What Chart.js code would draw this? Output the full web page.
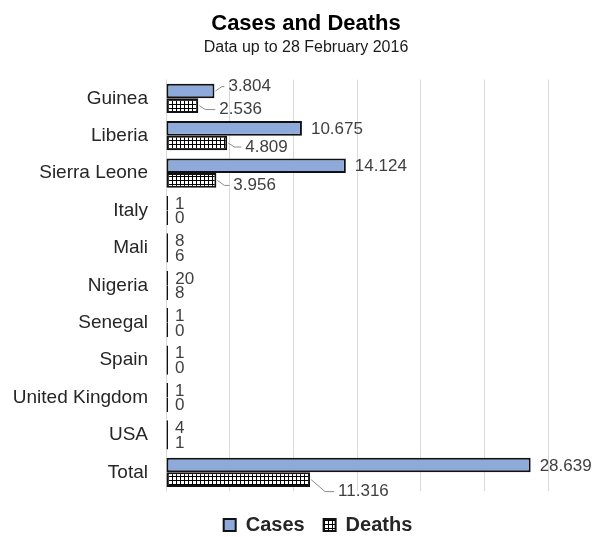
<!DOCTYPE html>
<html>
<head>
<meta charset="utf-8">
<title>Cases and Deaths</title>
<script src="https://cdn.jsdelivr.net/npm/chart.js@4"></script>
<style>
  html, body { margin: 0; padding: 0; background: #fff; }
  #wrap { width: 610px; height: 537px; }
</style>
</head>
<body>
<div id="wrap"><canvas id="chart" width="610" height="537"></canvas></div>
<script>
// Ebola cases and deaths per country, data up to 28 February 2016
const categories = ['Guinea', 'Liberia', 'Sierra Leone', 'Italy', 'Mali', 'Nigeria',
                    'Senegal', 'Spain', 'United Kingdom', 'USA', 'Total'];
const cases  = [3804, 10675, 14124, 1, 8, 20, 1, 1, 1, 4, 28639];
const deaths = [2536, 4809, 3956, 0, 6, 8, 0, 0, 0, 1, 11316];
const xTicks = [0, 5000, 10000, 15000, 20000, 25000, 30000];

const FONT = '"Liberation Sans", Arial, Helvetica, sans-serif';

// thousands separated with a dot
function fmt(v) {
  return String(v).replace(/\B(?=(\d{3})+(?!\d))/g, '.');
}

// small grid hatch used for the deaths bars
function gridPattern() {
  const c = document.createElement('canvas');
  c.width = 4; c.height = 4;
  const g = c.getContext('2d');
  g.fillStyle = '#ffffff';
  g.fillRect(0, 0, 4, 4);
  g.fillStyle = '#000000';
  g.fillRect(0, 0, 4, 1);
  g.fillRect(0, 0, 1, 4);
  return g.createPattern(c, 'repeat');
}

// value labels at the end of each bar, some moved aside with a leader line
const valueLabels = {
  id: 'valueLabels',
  afterDatasetsDraw(chart, args, opts) {
    const ctx = chart.ctx;
    const xs = chart.scales.x;
    ctx.save();
    ctx.font = opts.size + 'px ' + FONT;
    ctx.textAlign = 'left';
    ctx.textBaseline = 'middle';
    chart.data.datasets.forEach((ds, di) => {
      const meta = chart.getDatasetMeta(di);
      meta.data.forEach((el, i) => {
        const v = ds.data[i];
        const xEnd = xs.getPixelForValue(v);
        const moved = opts.moved[di + ':' + i];
        let tx, ty;
        if (moved) {
          tx = xEnd + moved[0];
          ty = el.y + moved[1];
          const sx = xEnd + 1, sy = el.y;
          const ex = Math.min(sx + Math.abs(moved[1]) + 2, tx - 6);
          ctx.strokeStyle = opts.leader;
          ctx.lineWidth = 1;
          ctx.beginPath();
          ctx.moveTo(sx, sy);
          ctx.lineTo(ex, ty);
          ctx.lineTo(tx - 4, ty);
          ctx.stroke();
        } else {
          tx = xEnd + opts.gap;
          ty = el.y + 1;
        }
        ctx.fillStyle = opts.color;
        ctx.fillText(fmt(v), tx, ty);
      });
    });
    ctx.restore();
  }
};

// moves the title block and the legend row sideways
const boxShift = {
  id: 'boxShift',
  afterLayout(chart, args, opts) {
    chart.boxes.forEach(b => {
      if (b instanceof Chart.Scale) return;
      const dx = b.options.position === 'bottom' ? opts.bottom : opts.top;
      b.left += dx;
      b.right += dx;
    });
  }
};

const hatch = gridPattern();

new Chart(document.getElementById('chart'), {
  type: 'bar',
  data: {
    labels: categories,
    datasets: [
      {
        label: 'Cases',
        data: cases,
        backgroundColor: '#8eaadb',
        borderColor: '#111111',
        borderWidth: 2,
        borderSkipped: false,
        minBarLength: 2
      },
      {
        label: 'Deaths',
        data: deaths,
        backgroundColor: hatch,
        borderColor: '#111111',
        borderWidth: 2,
        borderSkipped: false,
        minBarLength: 2
      }
    ]
  },
  options: {
    indexAxis: 'y',
    responsive: false,
    animation: false,
    categoryPercentage: 0.78,
    barPercentage: 1.0,
    layout: { padding: { left: 0, right: 62, top: 0, bottom: 0 } },
    scales: {
      x: {
        min: 0,
        max: 30000,
        afterBuildTicks(scale) { scale.ticks = xTicks.map(v => ({ value: v })); },
        afterFit(scale) { scale.height = 5; },
        ticks: { display: false },
        grid: { color: '#d9d9d9', lineWidth: 1, drawTicks: false },
        border: { display: false }
      },
      y: {
        afterFit(scale) { scale.width = 166; },
        ticks: {
          padding: 18,
          color: '#262626',
          font: { family: FONT, size: 19 }
        },
        grid: { display: false, drawTicks: false },
        border: { display: false }
      }
    },
    plugins: {
      title: {
        display: true,
        text: 'Cases and Deaths',
        color: '#000000',
        font: { family: FONT, size: 22, weight: 'bold' },
        padding: { top: 11, bottom: 1 }
      },
      subtitle: {
        display: true,
        text: 'Data up to 28 February 2016',
        color: '#1a1a1a',
        font: { family: FONT, size: 16 },
        padding: { top: 0, bottom: 22 }
      },
      legend: {
        position: 'bottom',
        maxHeight: 41,
        labels: {
          boxWidth: 12,
          boxHeight: 12,
          padding: 19,
          color: '#262626',
          font: { family: FONT, size: 20, weight: 'bold' }
        }
      },
      tooltip: { enabled: false },
      valueLabels: {
        size: 17,
        color: '#404040',
        leader: '#8c8c8c',
        gap: 9,
        moved: {
          '0:0': [14, -4.5],
          '1:0': [21, 4],
          '1:1': [18, 4],
          '1:2': [17, 5],
          '1:10': [28, 12]
        }
      },
      boxShift: { top: 32, bottom: 44 }
    }
  },
  plugins: [valueLabels, boxShift]
});
</script>
</body>
</html>
